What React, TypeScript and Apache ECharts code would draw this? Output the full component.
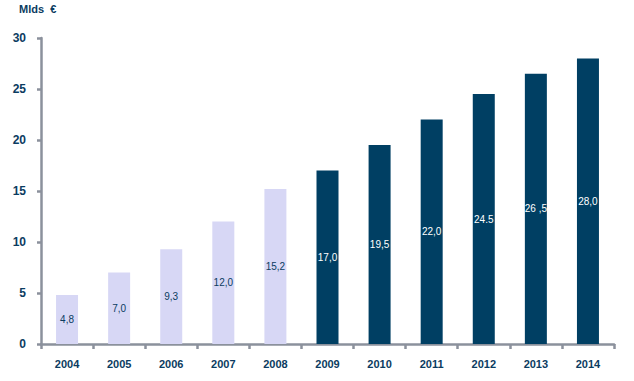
import React, { useEffect, useRef } from "react";
import * as echarts from "echarts";

const categories = ["2004", "2005", "2006", "2007", "2008", "2009", "2010", "2011", "2012", "2013", "2014"];
const values = [4.8, 7.0, 9.3, 12.0, 15.2, 17.0, 19.5, 22.0, 24.5, 26.5, 28.0];
const valueLabels = ["4,8", "7,0", "9,3", "12,0", "15,2", "17,0", "19,5", "22,0", "24.5", "26 ,5", "28,0"];
const isForecast = [false, false, false, false, false, true, true, true, true, true, true];
const yTicks = [0, 5, 10, 15, 20, 25, 30];

const NAVY = "#0b3c61";
const AXIS = "#8b919c";

export default function App() {
  const ref = useRef<HTMLDivElement>(null);
  useEffect(() => {
    if (!ref.current) return;
    const chart = echarts.init(ref.current, null, { renderer: "svg" });
    chart.setOption({
      animation: false,
      backgroundColor: "#ffffff",
      textStyle: { fontFamily: "Liberation Sans, Arial, sans-serif" },
      graphic: [
        {
          type: "text",
          left: 19,
          top: 3,
          style: { text: "Mlds  €", fill: NAVY, font: "bold 11px 'Liberation Sans', Arial, sans-serif" },
        },
      ],
      grid: { left: 41, right: 20, top: 38, bottom: 37, containLabel: false },
      xAxis: {
        type: "category",
        data: categories,
        axisLine: { show: true, lineStyle: { color: AXIS, width: 2.5 } },
        axisTick: { show: true, alignWithLabel: false, length: 5, lineStyle: { color: AXIS, width: 2.5 } },
        axisLabel: { color: NAVY, fontWeight: "bold", fontSize: 11, margin: 14 },
      },
      yAxis: {
        type: "value",
        min: yTicks[0],
        max: yTicks[yTicks.length - 1],
        interval: 5,
        splitLine: { show: false },
        axisLine: { show: true, lineStyle: { color: AXIS, width: 2.5 } },
        axisTick: { show: true, length: 4, lineStyle: { color: AXIS, width: 2.5 } },
        axisLabel: { color: NAVY, fontWeight: "bold", fontSize: 12, margin: 15 },
      },
      series: [
        {
          type: "bar",
          barWidth: 22,
          data: values.map((v, i) => ({
            value: v,
            itemStyle: { color: isForecast[i] ? "#003f63" : "#d7d7f5" },
            label: {
              show: true,
              position: "inside",
              formatter: valueLabels[i],
              color: isForecast[i] ? "#ffffff" : NAVY,
              fontSize: 10,
            },
          })),
        },
      ],
    });
    return () => chart.dispose();
  }, []);
  return <div ref={ref} style={{ width: 634, height: 381, position: "absolute", left: 0, top: 0 }} />;
}
